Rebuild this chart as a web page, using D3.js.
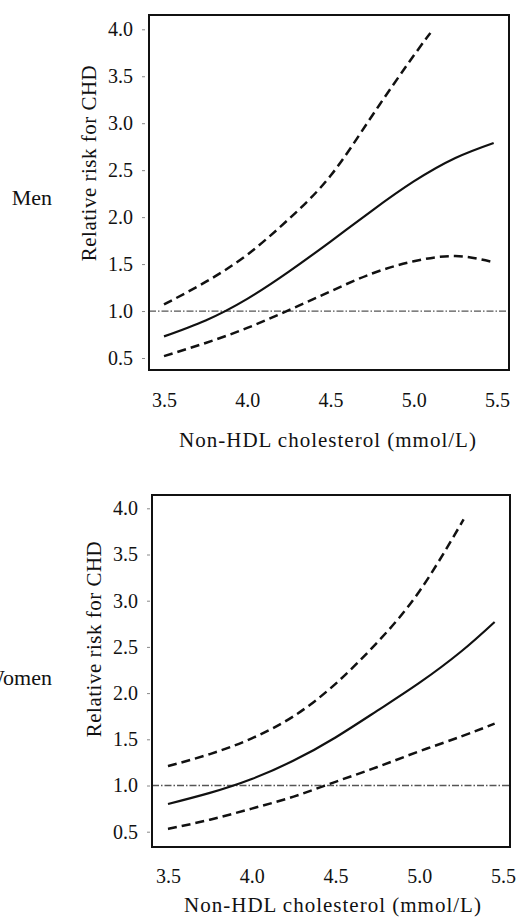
<!DOCTYPE html>
<html>
<head>
<meta charset="utf-8">
<script src="https://cdn.jsdelivr.net/npm/d3@7"></script>
<style>
  body { margin: 0; background: #fff; }
  svg { display: block; }
  svg text { font-family: "Liberation Serif", "DejaVu Serif", serif; fill: #111; }
</style>
</head>
<body>
<div class="chart"></div>
<script>
// values
const xTicks = [3.5, 4.0, 4.5, 5.0, 5.5]
const yTicks = [0.5, 1.0, 1.5, 2.0, 2.5, 3.0, 3.5, 4.0]
const refValue = 1.0

const menX = [3.5, 3.75, 4.0, 4.25, 4.5, 4.75, 5.0, 5.25, 5.48]
const menRisk = [0.73, 0.90, 1.13, 1.42, 1.74, 2.07, 2.38, 2.63, 2.79]
const menLower = [0.52, 0.66, 0.82, 1.01, 1.21, 1.40, 1.53, 1.585, 1.52]
const menUpperX = [3.5, 3.75, 4.0, 4.25, 4.5, 4.75, 5.0, 5.1]
const menUpper = [1.07, 1.31, 1.60, 1.98, 2.44, 3.08, 3.72, 3.96]

const womenX = [3.5, 3.75, 4.0, 4.25, 4.5, 4.75, 5.0, 5.25, 5.45]
const womenRisk = [0.80, 0.92, 1.07, 1.27, 1.52, 1.81, 2.11, 2.45, 2.77]
const womenLower = [0.53, 0.63, 0.75, 0.88, 1.04, 1.20, 1.37, 1.53, 1.67]
const womenUpperX = [3.5, 3.75, 4.0, 4.25, 4.5, 4.75, 5.0, 5.265]
const womenUpper = [1.21, 1.34, 1.51, 1.75, 2.10, 2.55, 3.10, 3.88]

const width = 520, height = 917
const serif = '"Liberation Serif", "DejaVu Serif", serif'

const svg = d3.select(".chart").append("svg")
    .attr("width", width)
    .attr("height", height)

const panels = [
  {label: "Men", labelY: 205, box: [149, 15, 509, 370], xr: [164, 497], yr: [358, 29.3],
   axisX: 145, xPad: 22.5, titleX: 96, titleY: 163, xLabelY: 447, xLabelX: 328,
   risk: [menX, menRisk], lower: [menX, menLower], upper: [menUpperX, menUpper]},
  {label: "Women", labelY: 685, box: [152, 495, 510, 847], xr: [168, 503], yr: [831.7, 508.3],
   axisX: 150, xPad: 21.5, titleX: 101, titleY: 639, xLabelY: 912, xLabelX: 333,
   risk: [womenX, womenRisk], lower: [womenX, womenLower], upper: [womenUpperX, womenUpper]}
]

function pairs(s) { return s[0].map(function(v, i) { return [v, s[1][i]] }) }

panels.forEach(function(p) {
    const x = d3.scaleLinear().domain([3.5, 5.5]).range(p.xr)
    const y = d3.scaleLinear().domain([0.5, 4.0]).range(p.yr)
    const g = svg.append("g")

    const line = d3.line()
        .x(function(d) { return x(d[0]) })
        .y(function(d) { return y(d[1]) })
        .curve(d3.curveNatural)

    // reference line at RR = 1
    g.append("line")
        .attr("x1", p.box[0]).attr("x2", p.box[2])
        .attr("y1", y(refValue)).attr("y2", y(refValue))
        .attr("stroke", "#555")
        .attr("stroke-width", 1.3)
        .attr("stroke-dasharray", "7,2,1.5,2")

    g.append("path")
        .datum(pairs(p.risk))
        .attr("fill", "none")
        .attr("stroke", "#111")
        .attr("stroke-width", 2.2)
        .attr("d", line)

    ;[p.lower, p.upper].forEach(function(s) {
        g.append("path")
            .datum(pairs(s))
            .attr("fill", "none")
            .attr("stroke", "#111")
            .attr("stroke-width", 2.5)
            .attr("stroke-dasharray", "9,5")
            .attr("d", line)
    })

    g.append("rect")
        .attr("x", p.box[0]).attr("y", p.box[1])
        .attr("width", p.box[2] - p.box[0])
        .attr("height", p.box[3] - p.box[1])
        .attr("fill", "none")
        .attr("stroke", "#111")
        .attr("stroke-width", 2)

    const yAxis = g.append("g")
        .attr("transform", "translate(" + p.axisX + ",0)")
        .call(d3.axisLeft(y).tickValues(yTicks).tickFormat(d3.format(".1f")).tickSize(3).tickPadding(9))
        .attr("font-family", serif)
        .attr("font-size", 20)
    yAxis.select(".domain").remove()
    yAxis.selectAll(".tick line").attr("stroke", "#888")

    const xAxis = g.append("g")
        .attr("transform", "translate(0," + p.box[3] + ")")
        .call(d3.axisBottom(x).tickValues(xTicks).tickFormat(d3.format(".1f")).tickSize(0).tickPadding(p.xPad))
        .attr("font-family", serif)
        .attr("font-size", 20)
    xAxis.select(".domain").remove()

    g.append("text")
        .attr("transform", "translate(" + p.titleX + "," + p.titleY + ") rotate(-90)")
        .attr("text-anchor", "middle")
        .style("font-size", "21px")
        .style("letter-spacing", "0.5px")
        .text("Relative risk for CHD")

    g.append("text")
        .attr("x", p.xLabelX)
        .attr("y", p.xLabelY)
        .attr("text-anchor", "middle")
        .style("font-size", "21px")
        .style("letter-spacing", "1px")
        .text("Non-HDL cholesterol (mmol/L)")

    // the scan cuts the left edge of the row labels
    g.append("text")
        .attr("x", 52)
        .attr("y", p.labelY)
        .attr("text-anchor", "end")
        .style("font-size", "22px")
        .text(p.label)
})
</script>
</body>
</html>
